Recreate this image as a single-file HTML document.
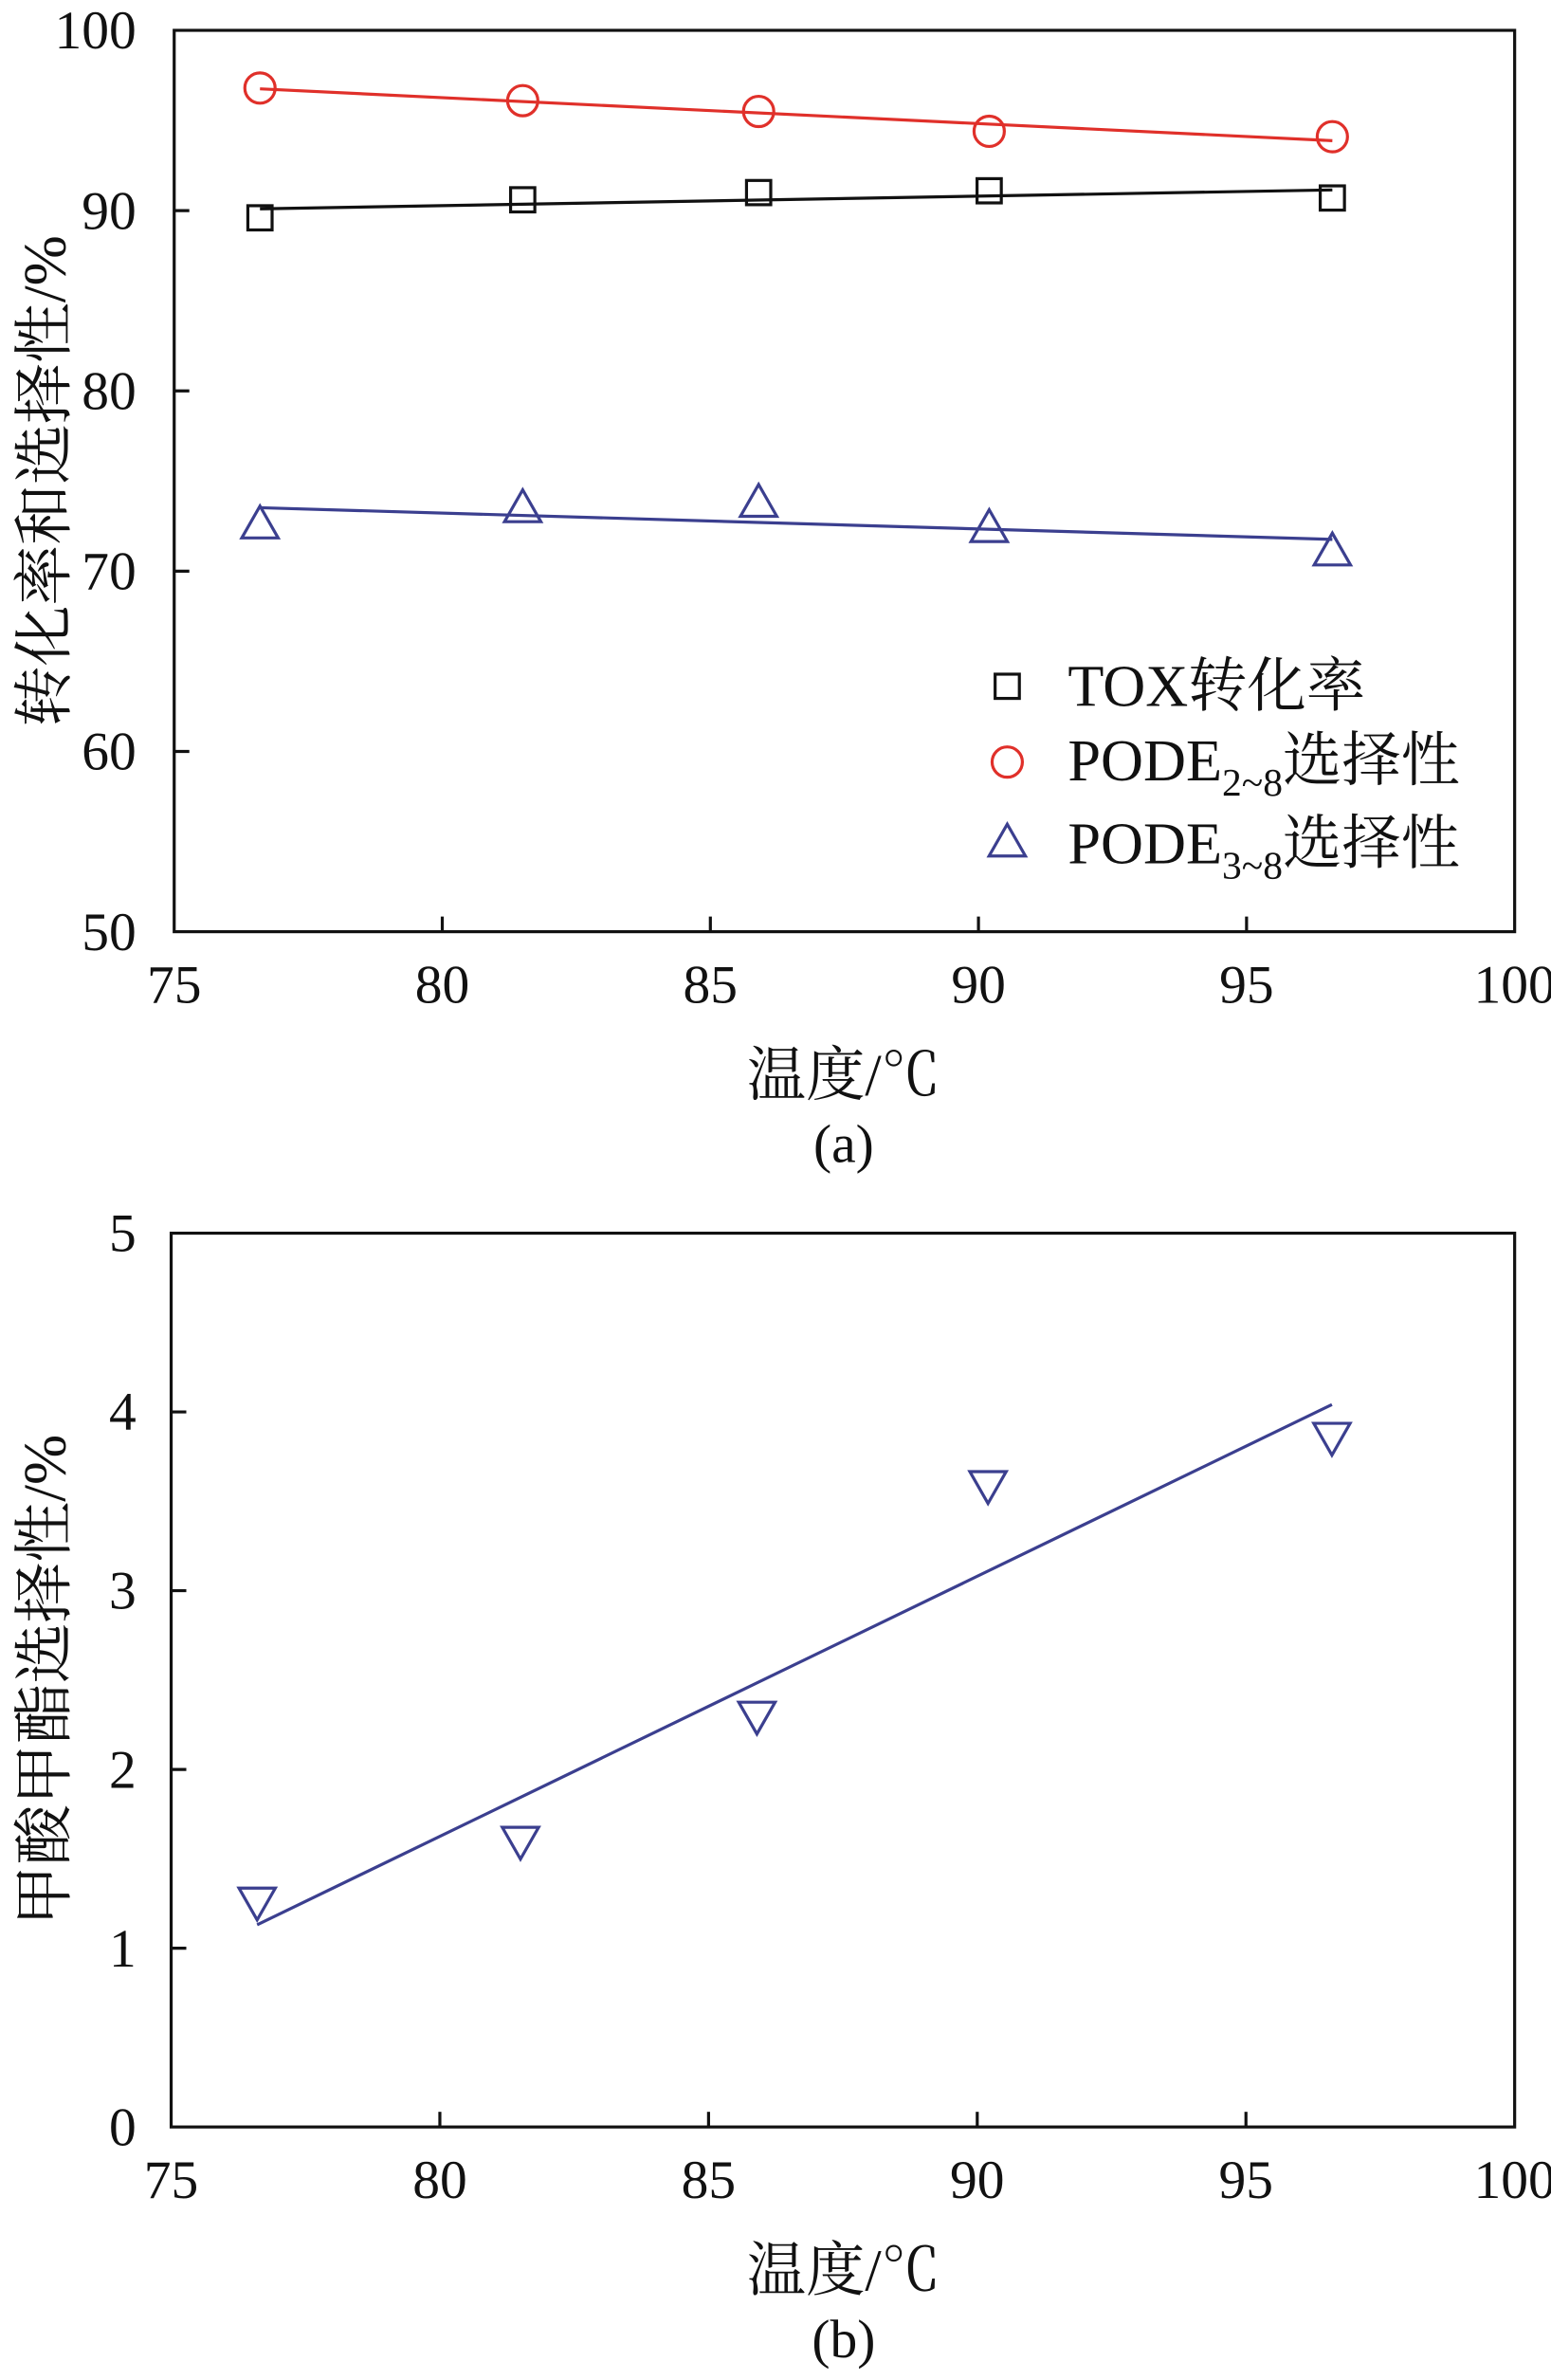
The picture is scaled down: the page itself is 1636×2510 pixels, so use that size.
<!DOCTYPE html>
<html><head><meta charset="utf-8"><style>
html,body{margin:0;padding:0;background:#fff}
svg{display:block}
text{font-family:"Liberation Serif","Noto Serif CJK SC",serif;fill:#111}
</style></head><body>
<svg id="fig" width="1636" height="2510" viewBox="0 0 1024 1571" xmlns="http://www.w3.org/2000/svg">
<g id="chartA"></g>
<g id="chartB"></g>
</svg>
<script>
const temps = [76.6, 81.5, 85.9, 90.2, 96.6];
const toxConv = [89.6, 90.6, 91.0, 91.1, 90.7];
const pode28 = [96.8, 96.1, 95.5, 94.4, 94.1];
const pode38 = [72.6, 73.5, 73.8, 72.4, 71.1];
const mfSel = [1.26, 1.6, 2.3, 3.59, 3.86];
const xTicks = [75, 80, 85, 90, 95, 100];
const yTicksA = [50, 60, 70, 80, 90, 100];
const yTicksB = [0, 1, 2, 3, 4, 5];

const NS = 'http://www.w3.org/2000/svg';
function mk(parent, tag, attrs, txt) {
  const e = document.createElementNS(NS, tag);
  for (const k in attrs) e.setAttribute(k, attrs[k]);
  if (txt !== undefined) e.textContent = txt;
  parent.appendChild(e);
  return e;
}
function fit(xs, ys) {
  const n = xs.length; const mx = xs.reduce((a,b)=>a+b)/n; const my = ys.reduce((a,b)=>a+b)/n;
  let sxy = 0, sxx = 0;
  for (let i = 0; i < n; i++) { sxy += (xs[i]-mx)*(ys[i]-my); sxx += (xs[i]-mx)**2; }
  const b = sxy/sxx; return x => my + b*(x-mx);
}
function marker(g, type, cx, cy, color, name) {
  let e;
  if (type === 'square') e = mk(g, 'rect', {x: cx-8, y: cy-8, width: 16, height: 16, fill: 'none', stroke: color, 'stroke-width': 2});
  else if (type === 'circle') e = mk(g, 'circle', {cx: cx, cy: cy, r: 10, fill: 'none', stroke: color, 'stroke-width': 2});
  else if (type === 'tri') e = mk(g, 'polygon', {points: `${cx-12},${cy+9} ${cx+12},${cy+9} ${cx},${cy-12}`, fill: 'none', stroke: color, 'stroke-width': 2});
  else e = mk(g, 'polygon', {points: `${cx-12},${cy-9} ${cx+12},${cy-9} ${cx},${cy+12}`, fill: 'none', stroke: color, 'stroke-width': 2});
  
  
}
function axes(g, L, R, T, B, xs, ys, yTicks, yMin, yMax, ytitle, xlab, letter) {
  const fr = mk(g, 'rect', {x: L, y: T, width: R-L, height: B-T, fill: 'none', stroke: '#111', 'stroke-width': 2});
  
  
  xTicks.forEach(v => {
    const x = xs(v);
    if (v > xTicks[0] && v < xTicks[xTicks.length-1]) mk(g, 'line', {x1: x, x2: x, y1: B, y2: B-10, stroke: '#111', 'stroke-width': 2});
    const t = mk(g, 'text', {x: x, y: B+47, 'text-anchor': 'middle', 'font-size': 36}, String(v));
    
    
  });
  yTicks.forEach(v => {
    const y = ys(v);
    if (v > yMin && v < yMax) mk(g, 'line', {x1: L, x2: L+10, y1: y, y2: y, stroke: '#111', 'stroke-width': 2});
    const t = mk(g, 'text', {x: 90, y: y+12, 'text-anchor': 'end', 'font-size': 36}, String(v));
    
    
  });
  const cy = (T+B)/2;
  const yt = mk(g, 'text', {x: 30, y: cy, 'text-anchor': 'middle', 'font-size': 40, transform: `rotate(-90 30 ${cy}) translate(0 13)`}, ytitle);
  
  
  const xt = mk(g, 'text', {x: 557, y: B+108, 'text-anchor': 'middle', 'font-size': 39}, xlab);
  
  
  const lt = mk(g, 'text', {x: 557, y: B+152, 'text-anchor': 'middle', 'font-size': 36}, letter);
  
  
}

// Chart A
(function(){
  const g = document.getElementById('chartA');
  const L = 115, R = 1000, T = 20, B = 615;
  const xs = v => L + (v-75)/(100-75)*(R-L);
  const ys = v => B - (v-50)/(100-50)*(B-T);
  axes(g, L, R, T, B, xs, ys, yTicksA, 50, 100, '转化率和选择性/%', '温度/℃', '(a)');
  const series = [
    {d: toxConv, c: '#111', m: 'square', n: 'tox-conversion'},
    {d: pode28, c: '#e0302a', m: 'circle', n: 'pode28-selectivity'},
    {d: pode38, c: '#3b3f8f', m: 'tri', n: 'pode38-selectivity'}
  ];
  series.forEach(s => {
    const f = fit(temps, s.d);
    const ln = mk(g, 'line', {x1: xs(temps[0]), y1: ys(f(temps[0])), x2: xs(temps[4]), y2: ys(f(temps[4])), stroke: s.c, 'stroke-width': 2});
    
    
    temps.forEach((t, i) => marker(g, s.m, xs(t), ys(s.d[i]), s.c, s.n + '-point'));
  });
  const lg = mk(g, 'g', {});
  
  
  marker(lg, 'square', 665, 453, '#111', 'legend-marker-tox');
  marker(lg, 'circle', 665, 503, '#e0302a', 'legend-marker-pode28');
  marker(lg, 'tri', 665, 556, '#3b3f8f', 'legend-marker-pode38');
  const t1 = mk(lg, 'text', {x: 705, y: 466, 'font-size': 39}, 'TOX转化率');
  
  
  const t2 = mk(lg, 'text', {x: 705, y: 515, 'font-size': 39});
  
  
  t2.innerHTML = 'PODE<tspan font-size="26" dy="10">2~8</tspan><tspan dy="-10">选择性</tspan>';
  const t3 = mk(lg, 'text', {x: 705, y: 570, 'font-size': 39});
  
  
  t3.innerHTML = 'PODE<tspan font-size="26" dy="10">3~8</tspan><tspan dy="-10">选择性</tspan>';
})();

// Chart B
(function(){
  const g = document.getElementById('chartB');
  const L = 113, R = 1000, T = 814, B = 1404;
  const xs = v => L + (v-75)/(100-75)*(R-L);
  const ys = v => B - (v-0)/(5-0)*(B-T);
  axes(g, L, R, T, B, xs, ys, yTicksB, 0, 5, '甲酸甲酯选择性/%', '温度/℃', '(b)');
  const f = fit(temps, mfSel);
  const ln = mk(g, 'line', {x1: xs(temps[0]), y1: ys(f(temps[0])), x2: xs(temps[4]), y2: ys(f(temps[4])), stroke: '#3b3f8f', 'stroke-width': 2});
  
  
  temps.forEach((t, i) => marker(g, 'dtri', xs(t), ys(mfSel[i]), '#3b3f8f', 'methyl-formate-point'));
})();
</script>
</body></html>
